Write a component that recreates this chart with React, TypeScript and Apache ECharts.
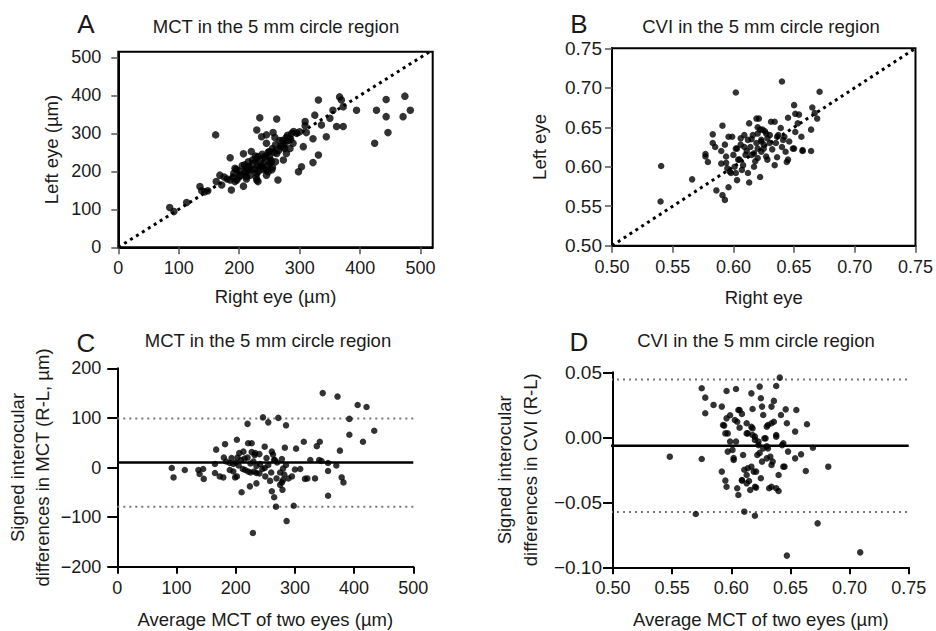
import React, { useEffect, useRef } from "react";
import * as echarts from "echarts";

const FONT = "Liberation Sans, Arial, Helvetica, sans-serif";
const INK = "#1a1a1a";

// ---------- Panel A: MCT, right eye (x) vs left eye (y), µm ----------
const mctTicks = [0, 100, 200, 300, 400, 500];
const mctEyes: number[][] = [
  [85, 105], [92, 94], [113, 118], [135, 160], [138, 149], [143, 146], [148, 149],
  [161, 296], [162, 173], [168, 190], [171, 164], [185, 236], [187, 151], [185, 177],
  [191, 195], [193, 173], [193, 208], [207, 161], [207, 246], [202, 190], [210, 199],
  [215, 212], [212, 186], [220, 204], [223, 221], [220, 252], [229, 234], [229, 309],
  [231, 173], [234, 341], [229, 195], [237, 212], [237, 291], [240, 221], [242, 239],
  [245, 274], [245, 204], [248, 199], [250, 252], [253, 225], [256, 302], [259, 289],
  [262, 338], [262, 247], [264, 177], [267, 281], [273, 230], [276, 274], [278, 247],
  [278, 289], [284, 260], [287, 300], [289, 274], [298, 199], [300, 304], [303, 212],
  [306, 265], [309, 320], [311, 302], [322, 286], [325, 348], [322, 223], [331, 388],
  [331, 243], [336, 322], [344, 291], [350, 340], [355, 361], [361, 318], [366, 396],
  [369, 388], [372, 318], [372, 370], [394, 361], [424, 274], [427, 361], [443, 389],
  [443, 344], [446, 302], [471, 344], [474, 398], [483, 361],
  [196, 177], [209, 217], [229, 177], [231, 239], [234, 212], [245, 296], [251, 221],
  [254, 204], [273, 265], [281, 282], [309, 331],
  [200, 200], [205, 215], [210, 195], [215, 225], [218, 190], [222, 230], [225, 205],
  [227, 240], [230, 215], [232, 200], [235, 225], [238, 245], [240, 205], [243, 235],
  [246, 215], [250, 240], [252, 230], [255, 260], [258, 250], [260, 270], [265, 255],
  [268, 265], [272, 282], [275, 260], [280, 295], [285, 285], [290, 305], [295, 300],
  [175, 185], [180, 180], [190, 185], [195, 205], [200, 185], [228, 185], [215, 205],
  [212, 180], [245, 190], [255, 210], [260, 225], [248, 250],
];

// ---------- Panel B: CVI, right eye (x) vs left eye (y) ----------
const cviTicks = [0.5, 0.55, 0.6, 0.65, 0.7, 0.75];
const cviEyes: number[][] = [
  [0.5405, 0.601], [0.540, 0.556], [0.566, 0.584], [0.583, 0.641], [0.577, 0.616],
  [0.579, 0.606], [0.577, 0.613], [0.583, 0.630], [0.585, 0.625], [0.586, 0.570],
  [0.591, 0.652], [0.591, 0.564], [0.593, 0.558], [0.596, 0.574], [0.590, 0.604],
  [0.593, 0.628], [0.594, 0.613], [0.595, 0.598], [0.597, 0.594], [0.598, 0.592],
  [0.599, 0.638], [0.601, 0.600], [0.602, 0.694], [0.602, 0.592], [0.603, 0.583],
  [0.603, 0.623], [0.605, 0.609], [0.606, 0.636], [0.608, 0.602], [0.609, 0.640],
  [0.609, 0.625], [0.610, 0.615], [0.612, 0.592], [0.613, 0.580], [0.613, 0.655],
  [0.614, 0.625], [0.616, 0.640], [0.617, 0.600], [0.617, 0.617], [0.619, 0.661],
  [0.619, 0.630], [0.620, 0.611], [0.620, 0.642], [0.621, 0.661], [0.622, 0.587],
  [0.623, 0.619], [0.623, 0.634], [0.624, 0.647], [0.625, 0.623], [0.627, 0.642],
  [0.628, 0.609], [0.630, 0.630], [0.631, 0.657], [0.634, 0.602], [0.634, 0.657],
  [0.635, 0.630], [0.636, 0.638], [0.639, 0.649], [0.640, 0.708], [0.640, 0.625],
  [0.642, 0.638], [0.643, 0.619], [0.644, 0.606], [0.645, 0.662], [0.646, 0.632],
  [0.650, 0.678], [0.650, 0.623], [0.651, 0.667], [0.651, 0.644], [0.654, 0.666],
  [0.656, 0.638], [0.657, 0.620], [0.664, 0.620], [0.664, 0.647], [0.665, 0.675],
  [0.669, 0.661], [0.671, 0.695], [0.667, 0.668],
  [0.596, 0.638], [0.602, 0.623], [0.604, 0.609], [0.612, 0.634], [0.615, 0.615],
  [0.620, 0.623], [0.622, 0.647], [0.623, 0.632], [0.626, 0.645], [0.627, 0.613],
  [0.628, 0.636], [0.637, 0.640], [0.641, 0.634], [0.645, 0.609], [0.649, 0.623],
  [0.653, 0.655], [0.657, 0.621], [0.606, 0.628], [0.611, 0.620], [0.618, 0.607],
  [0.625, 0.628], [0.632, 0.622], [0.600, 0.615], [0.590, 0.620], [0.607, 0.596],
  [0.615, 0.635], [0.620, 0.650], [0.630, 0.640], [0.636, 0.612], [0.594, 0.605],
];

// ---------- Panel C: MCT Bland-Altman (mean of eyes, R-L difference) ----------
const mctDiffTicks = [-200, -100, 0, 100, 200];
const mctBias = 10;
const mctUpperLoA = 99;
const mctLowerLoA = -79;
const mctDiffs: number[][] = [
  [92, -1], [95, -20], [114, -5], [137, -5], [139, -13], [145, -3], [146, -23],
  [167, 36], [165, 7], [165, -11], [173, -18], [179, -20], [182, 47], [180, 20],
  [184, 12], [190, 9], [193, 19], [196, 7], [199, -20], [202, 56], [203, 20],
  [205, 4], [202, -18], [206, 29], [209, 15], [210, -50], [213, 32], [216, -5],
  [220, 88], [220, 20], [221, 49], [221, -8], [224, -38], [227, 49], [227, 31],
  [229, -132], [230, 12], [231, -8], [233, 29], [235, -32], [235, -11], [240, 27],
  [241, 7], [246, 101], [249, 42], [249, -1], [252, 19], [255, 91], [258, -27],
  [261, 32], [261, -48], [263, 26], [265, -60], [266, 15], [268, -79], [269, -22],
  [272, 100], [275, -35], [278, 17], [279, -45], [280, -2], [282, -14], [283, 40],
  [285, 85], [286, -108], [289, -22], [295, -18], [298, -77], [300, -4], [302, 38],
  [309, -3], [315, 52], [317, -23], [321, -22], [326, 15], [334, -22], [337, 43],
  [341, 15], [342, 52], [345, 13], [347, 150], [356, -7], [356, -57], [356, 9],
  [370, 4], [372, 143], [376, 34], [379, -20], [382, -30], [392, 98], [392, 66],
  [406, 126], [415, 52], [421, 122], [434, 74],
  [215, 18], [225, 8], [235, 3], [245, -3], [255, 5], [270, 10], [275, -10],
  [280, -25], [285, 5], [260, -10], [240, -12], [232, 25], [212, -3], [200, 10],
  [190, -5], [196, -8], [250, -18], [265, 15], [278, -30], [225, -10],
];

// ---------- Panel D: CVI Bland-Altman ----------
const cviDiffTicks = [-0.1, -0.05, 0, 0.05];
const cviBias = -0.0065;
const cviUpperLoA = 0.0445;
const cviLowerLoA = -0.0575;
const cviDiffs: number[][] = [
  [0.548, -0.0149], [0.570, -0.059], [0.575, -0.0167], [0.575, 0.0377], [0.578, 0.0305],
  [0.578, 0.0185], [0.585, 0.0249], [0.592, 0.0236], [0.592, -0.0264], [0.594, 0.009],
  [0.595, -0.0333], [0.596, 0.0356], [0.596, -0.038], [0.597, 0.003], [0.597, -0.011],
  [0.599, 0.017], [0.601, -0.0097], [0.602, -0.0174], [0.603, 0.0133], [0.604, 0.0372],
  [0.604, -0.0033], [0.605, -0.0392], [0.606, -0.0444], [0.606, 0.021], [0.607, 0.0074],
  [0.609, 0.018], [0.609, -0.0333], [0.610, -0.0136], [0.611, -0.0572], [0.613, 0.0108],
  [0.614, 0.003], [0.614, -0.0238], [0.615, -0.0336], [0.616, -0.0405], [0.617, 0.0338],
  [0.618, 0.0218], [0.618, 0.0069], [0.619, -0.0264], [0.620, 0.0005], [0.620, -0.0603],
  [0.621, -0.0387], [0.622, -0.0136], [0.623, -0.0033], [0.624, 0.039], [0.625, -0.0315],
  [0.625, 0.030], [0.626, 0.0236], [0.627, 0.0172], [0.628, -0.0008], [0.630, 0.0082],
  [0.630, -0.0162], [0.631, -0.0085], [0.632, -0.0392], [0.634, 0.0236], [0.634, 0.0108],
  [0.635, -0.0187], [0.636, 0.028], [0.638, 0.0395], [0.638, 0.0005], [0.640, -0.029],
  [0.640, -0.0413], [0.641, 0.0459], [0.642, 0.0172], [0.644, -0.0046], [0.645, -0.0226],
  [0.646, 0.0215], [0.647, 0.0108], [0.647, -0.091], [0.648, -0.011], [0.654, 0.0044],
  [0.654, -0.0162], [0.655, 0.021], [0.659, -0.0131], [0.663, -0.0259], [0.664, 0.01],
  [0.669, -0.008], [0.673, -0.0662], [0.682, -0.0226], [0.709, -0.0885],
  [0.593, 0.0095], [0.595, 0.003], [0.596, 0.0146], [0.599, -0.0033], [0.602, -0.016],
  [0.605, 0.012], [0.607, 0.021], [0.613, 0.003], [0.617, 0.008], [0.618, 0.0018],
  [0.620, -0.002], [0.623, -0.006], [0.624, -0.012], [0.626, -0.0187], [0.627, -0.0085],
  [0.629, -0.0008], [0.630, -0.007], [0.631, 0.0095], [0.633, -0.0149], [0.634, -0.0213],
  [0.636, 0.012], [0.638, 0.0018], [0.643, -0.006], [0.644, -0.0226], [0.611, -0.025],
  [0.613, -0.029], [0.617, -0.0226], [0.621, -0.0264], [0.609, -0.0328], [0.613, -0.0354],
  [0.620, -0.038], [0.634, -0.038], [0.638, -0.0392],
];

const panelLetters = ["A", "B", "C", "D"];
const panelTitles = [
  "MCT in the 5 mm circle region",
  "CVI in the 5 mm circle region",
  "MCT in the 5 mm circle region",
  "CVI in the 5 mm circle region",
];

const fmt = (d: number) => (v: number) =>
  (v < -1e-9 ? "\u2212" : "") + Math.abs(v).toFixed(d);

const TICK_FS = 18;
const NAME_FS = 18.5;

function axisBase(labelMargin: number, tickLen: number, tickColor: string, tickW: number, extra: any = {}) {
  return {
    nameLocation: "middle" as const,
    axisLine: { show: true, onZero: false, lineStyle: { color: "#000", width: 2 } },
    axisTick: { show: true, inside: false, length: tickLen, lineStyle: { color: tickColor, width: tickW }, ...(extra.tick || {}) },
    axisLabel: { color: INK, fontSize: TICK_FS, fontFamily: FONT, margin: labelMargin, ...(extra.label || {}) },
    splitLine: { show: false },
    nameTextStyle: { color: INK, fontSize: NAME_FS, fontFamily: FONT, ...(extra.name || {}) },
  };
}

function buildOption() {
  const dotted = (color: string, width: number, dash: number[]) => ({
    color, width, type: dash, cap: "butt" as const,
  });
  const scatter = (idx: number, data: number[][], size: number) => ({
    type: "scatter", xAxisIndex: idx, yAxisIndex: idx, data, symbolSize: size,
    itemStyle: { color: "#000" }, z: 3,
  });
  const hline = (idx: number, x0: number, x1: number, y: number, lineStyle: any, z = 2) => ({
    type: "line", xAxisIndex: idx, yAxisIndex: idx, data: [[x0, y], [x1, y]],
    symbol: "none", lineStyle, clip: false, z,
  });

  const textEl = (text: string, x: number, y: number, size: number) => ({
    type: "text", x, y, silent: true,
    style: { text, fill: INK, font: `${size}px ${FONT}`, textAlign: "center", textVerticalAlign: "middle" },
  });

  return {
    animation: false,
    backgroundColor: "#fff",
    grid: [
      { left: 118.3, top: 51.7, width: 314.4, height: 195.6, show: true, borderColor: "#000", borderWidth: 2, backgroundColor: "transparent" },
      { left: 612, top: 48.3, width: 304.3, height: 197.4, show: true, borderColor: "#000", borderWidth: 2, backgroundColor: "transparent" },
      { left: 117.3, top: 368.3, width: 296, height: 198.4 },
      { left: 613, top: 372.3, width: 295.7, height: 195 },
    ],
    xAxis: [
      {
        ...axisBase(12, 7, "#555", 1.5, { tick: { customValues: mctTicks }, label: { customValues: mctTicks } }),
        gridIndex: 0, type: "value", min: 0, max: 520,
        name: "Right eye (µm)", nameGap: 40,
      },
      {
        ...axisBase(12, 7, "#555", 1.5, { label: { formatter: fmt(2) } }),
        gridIndex: 1, type: "value", min: 0.5, max: 0.75, interval: 0.05,
        name: "Right eye", nameGap: 42,
      },
      {
        ...axisBase(12, 7, "#000", 2),
        gridIndex: 2, type: "value", min: 0, max: 500, interval: 100,
        name: "Average MCT of two eyes (µm)", nameGap: 43,
      },
      {
        ...axisBase(12, 7, "#000", 2, { label: { formatter: fmt(2) } }),
        gridIndex: 3, type: "value", min: 0.5, max: 0.75, interval: 0.05,
        name: "Average MCT of two eyes (µm)", nameGap: 43,
      },
    ],
    yAxis: [
      {
        ...axisBase(17, 7, "#555", 1.5, { tick: { customValues: mctTicks }, label: { customValues: mctTicks } }),
        gridIndex: 0, type: "value", min: 0, max: 515,
        name: "Left eye (µm)", nameGap: 57,
      },
      {
        ...axisBase(10, 7, "#555", 1.5, { label: { formatter: fmt(2), fontSize: 19 } }),
        gridIndex: 1, type: "value", min: 0.5, max: 0.75, interval: 0.05,
        name: "Left eye", nameGap: 63,
      },
      {
        ...axisBase(16, 10, "#000", 2, { label: { formatter: fmt(0) }, name: { lineHeight: 25 } }),
        gridIndex: 2, type: "value", min: -200, max: 200, interval: 100,
        name: "Signed interocular\ndifferences in MCT (R-L, µm)", nameGap: 62,
      },
      {
        ...axisBase(11, 10, "#000", 2, { label: { formatter: fmt(2), fontSize: 19 }, name: { lineHeight: 26 } }),
        gridIndex: 3, type: "value", min: -0.1, max: 0.05, interval: 0.05,
        name: "Signed interocular\ndifferences in CVI (R-L)", nameGap: 70,
      },
    ],
    series: [
      { type: "line", xAxisIndex: 0, yAxisIndex: 0, data: [[0, 0], [515, 515]], symbol: "none", lineStyle: dotted("#000", 3, [3, 4]), z: 2 },
      scatter(0, mctEyes, 7.5),
      { type: "line", xAxisIndex: 1, yAxisIndex: 1, data: [[cviTicks[0], cviTicks[0]], [cviTicks[5], cviTicks[5]]], symbol: "none", lineStyle: dotted("#000", 3, [3, 4]), z: 2 },
      scatter(1, cviEyes, 6.5),
      hline(2, 0, 500, mctUpperLoA, dotted("#777", 2, [2, 4])),
      hline(2, 0, 500, mctLowerLoA, dotted("#777", 2, [2, 4])),
      hline(2, 0, 500, mctBias, { color: "#000", width: 2.5, type: "solid" }),
      scatter(2, mctDiffs, 6.5),
      hline(3, 0.478, 0.75, cviUpperLoA, dotted("#777", 2, [2, 4])),
      hline(3, 0.478, 0.75, cviLowerLoA, dotted("#777", 2, [2, 4])),
      hline(3, 0.478, 0.75, cviBias, { color: "#000", width: 2.5, type: "solid" }),
      scatter(3, cviDiffs, 6.5),
    ],
    graphic: [
      textEl(panelLetters[0], 86, 24, 26),
      textEl(panelLetters[1], 579, 24, 26),
      textEl(panelLetters[2], 86, 343, 26),
      textEl(panelLetters[3], 579, 342, 26),
      textEl(panelTitles[0], 276, 26, 18.5),
      textEl(panelTitles[1], 761, 26, 18.5),
      textEl(panelTitles[2], 268, 340, 18.5),
      textEl(panelTitles[3], 756, 340, 18.5),
    ],
  };
}

export default function App() {
  const ref = useRef<HTMLDivElement>(null);
  useEffect(() => {
    if (!ref.current) return;
    const chart = echarts.init(ref.current, null, { renderer: "svg" });
    chart.setOption(buildOption() as any);
    return () => chart.dispose();
  }, []);
  return (
    <div
      ref={ref}
      style={{ position: "absolute", left: 0, top: 0, width: 936, height: 631, background: "#fff" }}
    />
  );
}
